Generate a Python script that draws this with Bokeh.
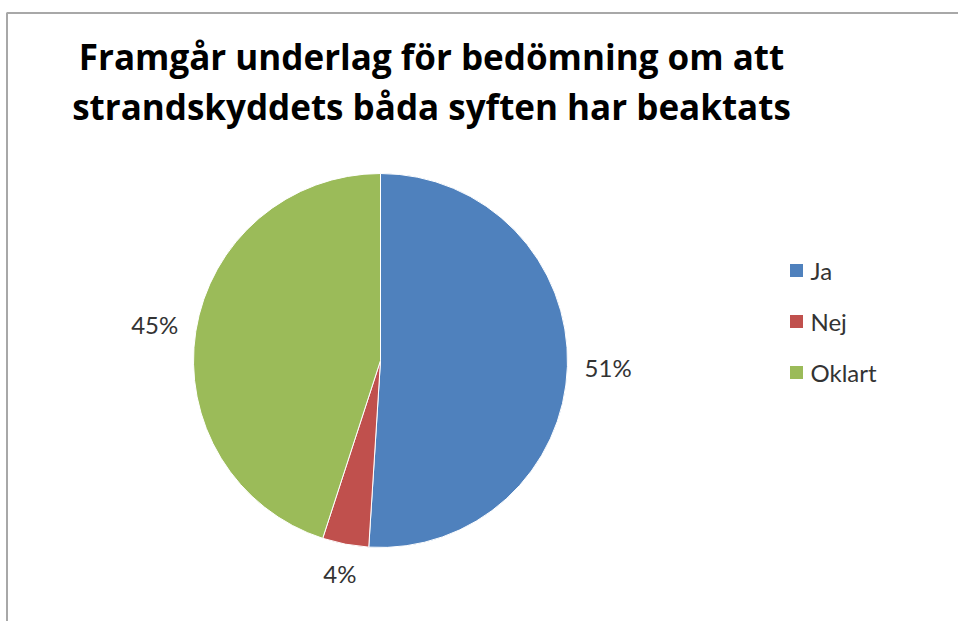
import math
from bokeh.plotting import figure
from bokeh.models import Range1d, ColumnDataSource
from bokeh.core.properties import value
from bokeh.embed import file_html
from bokeh.resources import INLINE

title_lines = ["Framgår underlag för bedömning om att",
               "strandskyddets båda syften har beaktats"]
categories = ["Ja", "Nej", "Oklart"]
shares = [0.51, 0.04, 0.45]
labels = ["51%", "4%", "45%"]
colors = ["#4F81BD", "#C0504D", "#9BBB59"]

W, H = 958, 621
OX, OY = 0, 0
p = figure(width=W, height=H, output_backend="svg", toolbar_location=None,
           x_range=Range1d(0, W), y_range=Range1d(0, H), min_border=0)
p.axis.visible = False
p.grid.visible = False
p.outline_line_color = None
p.background_fill_color = "white"

def py(page_y):
    return OY + H - page_y

def px(page_x):
    return page_x - OX

# border (top and left visible)
p.segment(x0=[px(6), px(6.5)], y0=[py(12.5), py(12.5)], x1=[W, px(6.5)], y1=[py(12.5), 0],
          line_color="#a8a8a8", line_width=2)

# title
p.text(x=[px(431)] * 2, y=[py(56), py(106)], text=title_lines,
       text_font=value("Open Sans"), text_font_style="bold", text_font_size="35px",
       text_align="center", text_baseline="alphabetic", text_color="#000000")

# pie
cx, cy, R = px(380), py(360), 187
starts, ends, mids = [], [], []
acc = 0.0
for s in shares:
    a0 = math.pi / 2 - 2 * math.pi * acc
    a1 = math.pi / 2 - 2 * math.pi * (acc + s)
    starts.append(a0)
    ends.append(a1)
    mids.append((a0 + a1) / 2)
    acc += s
src = ColumnDataSource(dict(start=starts, end=ends, color=colors, cat=categories))
p.wedge(x=cx, y=cy, radius=R, start_angle="start", end_angle="end", direction="clock",
        fill_color="color", line_color="white", line_width=1, source=src)

# data labels
lx, ly = [], []
for m, lab in zip(mids, labels):
    hw = 7.5 * len(lab)
    hh = 9
    d = 205 + abs(math.cos(m)) * hw + abs(math.sin(m)) * hh
    lx.append(cx + d * math.cos(m))
    ly.append(cy + d * math.sin(m))
p.text(x=lx, y=ly, text=labels, text_font=value("Lato"), text_font_size="24px",
       text_align="center", text_baseline="middle", text_color="#333333")

# legend
leg_x = px(796)
leg_y = [py(270 + 51 * i) for i in range(len(categories))]
p.scatter(x=[leg_x] * 3, y=leg_y, marker="square", size=13, fill_color=colors, line_color=None)
p.text(x=[px(810)] * 3, y=leg_y, text=categories, text_font=value("Lato"), text_font_size="24px",
       text_align="left", text_baseline="middle", text_color="#333333")

open("out.html", "w").write(file_html(p, INLINE))
